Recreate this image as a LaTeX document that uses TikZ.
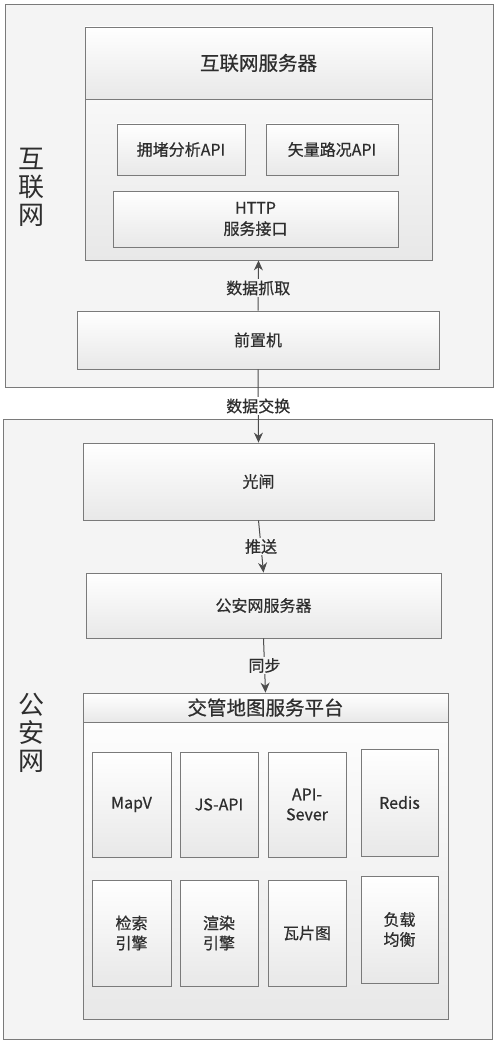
\documentclass[tikz,border=0pt]{standalone}
\usepackage{fontspec}
\setmainfont{Noto Sans CJK SC}[FakeBold=0.6]
\newfontfamily\sidefont{Noto Sans CJK SC}
\usetikzlibrary{arrows.meta,shadows}
\definecolor{linec}{HTML}{7A7A7A}
\definecolor{txtc}{HTML}{2E2E2E}
\definecolor{outerfill}{HTML}{F4F4F4}
\begin{document}
\begin{tikzpicture}[x=1pt,y=-1pt,
  outerbox/.style={draw=linec, fill=outerfill, line width=0.8pt, inner sep=0pt},
  plainbox/.style={draw=linec, line width=0.8pt, top color=white, bottom color=black!9,
    text=txtc, align=center, inner sep=0pt, font=\fontsize{16}{19}\selectfont},
  box/.style={plainbox, drop shadow={shadow xshift=1.3pt, shadow yshift=-1.3pt, fill=black!35, opacity=0.5}},
  titlefont/.style={font=\fontsize{19.5}{23}\selectfont},
  sidelab/.style={text=txtc, align=center, font=\sidefont\fontsize{26}{28}\selectfont},
  lab/.style={fill=outerfill, inner sep=1.5pt, text=txtc, font=\fontsize{16}{19}\selectfont},
  conn/.style={draw=black!70, line width=1pt, -{Stealth[length=10pt,width=9pt]}}
]
\useasboundingbox (0,0) rectangle (500,1046);
\fill[white] (0,0) rectangle (500,1046);

% outer regions
\node[outerbox, minimum width=488pt, minimum height=383pt] (net) at (249,195.5) {};
\node[outerbox, minimum width=489pt, minimum height=620pt] (ga) at (247.5,729) {};
\node[sidelab] (netlab) at (31,187) {互\\联\\网};
\node[sidelab] (galab) at (31,733) {公\\安\\网};

% internet server
\node[box, minimum width=347pt, minimum height=233pt] (srv) at (258.5,143.5) {};
\node[plainbox, titlefont, minimum width=347pt, minimum height=72pt] (srvtitle) at (258.5,63) {互联网服务器};
\node[box, minimum width=128pt, minimum height=51pt] (api1) at (181,149.5) {拥堵分析API};
\node[box, minimum width=132pt, minimum height=51pt] (api2) at (332,149.5) {矢量路况API};
\node[box, minimum width=285pt, minimum height=56pt, font=\fontsize{16}{21}\selectfont] (http) at (255.5,219) {HTTP\\服务接口};

% front machine
\node[box, minimum width=362pt, minimum height=58pt] (qzj) at (258,340) {前置机};

% police network
\node[box, minimum width=351pt, minimum height=77pt] (gz) at (258.5,481.5) {光闸};
\node[box, minimum width=355pt, minimum height=65pt] (gaf) at (263.5,605.5) {公安网服务器};
\node[box, minimum width=365pt, minimum height=326pt] (plat) at (265.5,856) {};
\node[plainbox, titlefont, minimum width=365pt, minimum height=29pt] (plattitle) at (265.5,707.5) {交管地图服务平台};

\node[box, minimum width=79pt, minimum height=105pt] (mapv) at (131.5,804.5) {MapV};
\node[box, minimum width=78pt, minimum height=105pt] (jsapi) at (219,804.5) {JS-API};
\node[box, minimum width=78pt, minimum height=105pt, font=\fontsize{16}{20}\selectfont] (apisv) at (307,804.5) {API-\\Sever};
\node[box, minimum width=77pt, minimum height=107pt] (redis) at (399.5,802.5) {Redis};
\node[box, minimum width=79pt, minimum height=106pt, font=\fontsize{16}{20}\selectfont] (search) at (131.5,933) {检索\\引擎};
\node[box, minimum width=78pt, minimum height=106pt, font=\fontsize{16}{20}\selectfont] (render) at (219,933) {渲染\\引擎};
\node[box, minimum width=78pt, minimum height=106pt] (tile) at (307,933) {瓦片图};
\node[box, minimum width=77pt, minimum height=107pt, font=\fontsize{16}{20}\selectfont] (lb) at (399.5,929.5) {负载\\均衡};

% connectors
\draw[conn] (qzj.north) -- node[lab, pos=0.45] {数据抓取} (srv.south);
\draw[conn] (qzj.south) -- node[lab, fill=white, pos=0.5] {数据交换} (gz.north);
\draw[conn] (gz.south) -- node[lab, pos=0.5] {推送} (gaf.north);
\draw[conn] (gaf.south) -- node[lab, pos=0.5] {同步} (plattitle.north);
\end{tikzpicture}
\end{document}
